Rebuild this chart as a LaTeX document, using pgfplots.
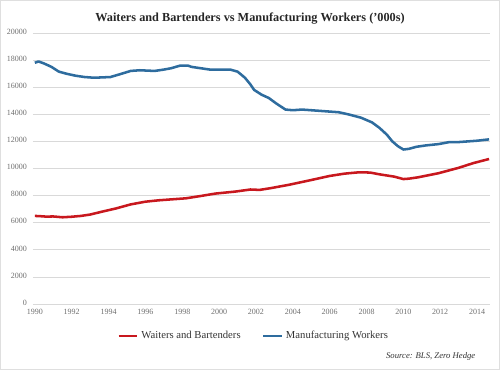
\documentclass[border=0pt]{standalone}
\usepackage{fontspec}
\setmainfont{Liberation Serif}
\usepackage{pgfplots}
\pgfplotsset{compat=1.18}
\definecolor{wred}{RGB}{200,24,30}
\definecolor{mblue}{RGB}{46,108,158}
\definecolor{gridc}{RGB}{217,217,217}
\definecolor{tickc}{RGB}{110,110,110}
\begin{document}
\begin{tikzpicture}[x=1pt,y=1pt]
\path[use as bounding box] (-24.75pt,-49.5pt) rectangle (350.25pt,228pt);
\draw[gray!25,line width=0.6pt] (-24.4pt,-49.15pt) rectangle (349.9pt,227.65pt);
\begin{axis}[
  scale only axis,
  width=342.75pt, height=203.25pt,
  xmin=1989.9, xmax=2014.7,
  ymin=0, ymax=20000,
  axis x line*=bottom, axis y line*=left,
  x axis line style={gridc, line width=0.6pt, -},
  y axis line style={draw=none},
  xtick={1990,1992,...,2014},
  ytick={0,2000,...,20000},
  ymajorgrids, grid style={gridc, line width=0.5pt},
  major tick length=0pt,
  tick label style={font=\fontsize{6}{7}\selectfont, text=tickc},
  /pgf/number format/1000 sep={},
  /pgf/number format/assume math mode=true,
  scaled y ticks=false,
  xticklabel style={yshift=-0.5pt},
  yticklabel style={xshift=-1pt, yshift=1pt},
  legend style={at={(165.75pt,-24pt)}, anchor=center, draw=none, fill=none,
    font=\fontsize{8}{9}\selectfont, text=black!80, legend columns=2,
    /tikz/every even column/.append style={column sep=14pt}},
  legend image code/.code={\draw[#1, line width=2pt] (0pt,0pt) -- (14pt,0pt);},
  clip=false,
]
\addplot[wred, line width=1.9pt, line join=round] coordinates {
(1990.0,6500) (1990.3,6480) (1990.6,6450) (1991.0,6460) (1991.5,6400)
(1992.0,6440) (1992.5,6500) (1993.0,6600) (1993.6,6800) (1994.4,7050)
(1995.2,7350) (1996.0,7550) (1996.7,7650) (1997.4,7720) (1998.2,7800)
(1999.0,7970) (1999.8,8150) (2000.9,8300) (2001.7,8450) (2002.2,8420)
(2002.8,8550) (2003.8,8800) (2005.0,9150) (2006.0,9450) (2006.8,9620)
(2007.6,9720) (2008.2,9700) (2008.7,9570) (2009.5,9400) (2010.0,9220)
(2010.3,9250) (2010.8,9350) (2011.9,9650) (2013.0,10050) (2013.8,10400)
(2014.65,10700)
};
\addlegendentry{Waiters and Bartenders}
\addplot[mblue, line width=1.9pt, line join=round] coordinates {
(1990.0,17800) (1990.2,17900) (1990.5,17750) (1990.9,17500) (1991.3,17150)
(1991.7,17000) (1992.2,16850) (1992.7,16750) (1993.2,16700) (1993.6,16720)
(1994.1,16750) (1994.6,16950) (1995.2,17200) (1995.7,17250) (1996.5,17200)
(1997.0,17300) (1997.4,17400) (1997.9,17600) (1998.3,17600) (1998.5,17500)
(1999.0,17400) (1999.5,17300) (2000.0,17300) (2000.6,17300) (2001.0,17150)
(2001.4,16700) (2001.7,16200) (2001.9,15800) (2002.3,15450) (2002.7,15200)
(2003.1,14800) (2003.6,14350) (2004.0,14300) (2004.5,14350) (2005.0,14300)
(2005.5,14250) (2006.0,14200) (2006.5,14150) (2007.0,14000) (2007.7,13750)
(2008.3,13400) (2008.7,13000) (2009.1,12500) (2009.4,12000) (2009.7,11650)
(2010.0,11400) (2010.3,11450) (2010.7,11600) (2011.2,11700) (2011.9,11800)
(2012.5,11950) (2013.0,11950) (2013.5,12000) (2014.0,12050) (2014.65,12150)
};
\addlegendentry{Manufacturing Workers}
\end{axis}
\node[font=\bfseries\fontsize{9.2}{10}\selectfont, text=black!85] at (162.75pt,214pt) {Waiters and Bartenders vs Manufacturing Workers ('000s)};
\node[font=\itshape\fontsize{6.5}{7}\selectfont, text=black!80, anchor=east] at (335.25pt,-39pt) {Source: BLS, Zero Hedge};
\end{tikzpicture}
\end{document}
